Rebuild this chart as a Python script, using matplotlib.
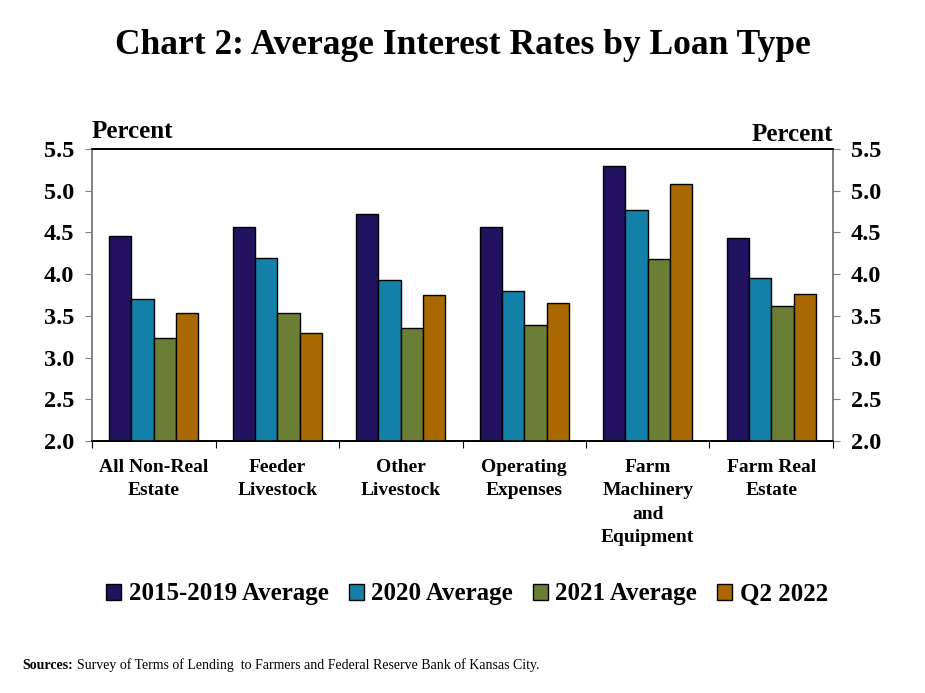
import matplotlib
matplotlib.use('Agg')
import matplotlib.pyplot as plt
import numpy as np

plt.rcParams['font.family'] = ['Liberation Serif', 'DejaVu Serif']
plt.rcParams['font.weight'] = 'bold'

categories = ['All Non-Real\nEstate', 'Feeder\nLivestock', 'Other\nLivestock',
              'Operating\nExpenses', 'Farm\nMachinery\nand\nEquipment', 'Farm Real\nEstate']
series_names = ['2015-2019 Average', '2020 Average', '2021 Average', 'Q2 2022']
avg_2015_2019 = [4.46, 4.57, 4.72, 4.56, 5.30, 4.43]
avg_2020 = [3.70, 4.19, 3.93, 3.80, 4.77, 3.95]
avg_2021 = [3.23, 3.53, 3.36, 3.39, 4.18, 3.62]
q2_2022 = [3.54, 3.29, 3.75, 3.65, 5.08, 3.76]
colors = ['#20125F', '#1380A8', '#6A7F35', '#AA6800']

fig = plt.figure(figsize=(9.25, 6.93), dpi=100)
ax = fig.add_axes([0.0995, 0.3636, 0.801, 0.4214])

x = np.arange(len(categories))
width = 0.181
all_series = [avg_2015_2019, avg_2020, avg_2021, q2_2022]
for i, (vals, name, c) in enumerate(zip(all_series, series_names, colors)):
    ax.bar(x + (i - 1.5) * width, vals, width=width, color=c, edgecolor='black',
           linewidth=1, label=name, zorder=3)

ax.set_xlim(-0.5, len(categories) - 0.5)
ax.set_ylim(2.0, 5.5)
yt = np.arange(2.0, 5.51, 0.5)
ax.set_yticks(yt)
ax.set_yticklabels(['%.1f' % v for v in yt], fontsize=17.5, fontweight='bold')
ax.tick_params(axis='y', direction='out', length=5, color='#808080', pad=8)

# category labels between boundary ticks
ax.set_xticks(np.arange(-0.5, len(categories), 1.0))
ax.set_xticklabels([])
ax.tick_params(axis='x', direction='out', length=5, color='black')
for xi, lab in zip(x, categories):
    ax.text(xi, -0.06, lab, transform=ax.get_xaxis_transform(), ha='center', va='top',
            fontsize=14, fontweight='bold', linespacing=1.5)

ax2 = ax.twinx()
ax2.set_ylim(2.0, 5.5)
ax2.set_yticks(yt)
ax2.set_yticklabels(['%.1f' % v for v in yt], fontsize=17.5, fontweight='bold')
ax2.tick_params(axis='y', direction='out', length=5, color='#808080', pad=8)

for a in (ax, ax2):
    a.spines['left'].set_color('#808080')
    a.spines['right'].set_color('#808080')
    a.spines['top'].set_color('black')
    a.spines['bottom'].set_color('black')
    for s in a.spines.values():
        s.set_linewidth(1.2)

ax.text(0.0, 1.02, 'Percent', transform=ax.transAxes, ha='left', va='bottom',
        fontsize=18, fontweight='bold')
ax2.text(1.0, 1.01, 'Percent', transform=ax2.transAxes, ha='right', va='bottom',
         fontsize=18, fontweight='bold')

fig.text(0.5, 0.935, 'Chart 2: Average Interest Rates by Loan Type', ha='center',
         va='center', fontsize=25.5, fontweight='bold')

h, l = ax.get_legend_handles_labels()
fig.legend(h, l, loc='center', bbox_to_anchor=(0.505, 0.143), ncol=4, frameon=False,
           prop={'size': 18, 'weight': 'bold'}, handlelength=0.6, handleheight=0.6,
           handletextpad=0.3, columnspacing=0.8)

src_bold = fig.text(0.024, 0.04, 'Sources:', ha='left', va='center', fontsize=10,
                    fontweight='bold')
fig.canvas.draw()
bb = src_bold.get_window_extent(renderer=fig.canvas.get_renderer())
fig.text(bb.x1 / fig.bbox.width + 0.004, 0.04,
         'Survey of Terms of Lending  to Farmers and Federal Reserve Bank of Kansas City.',
         ha='left', va='center', fontsize=10, fontweight='normal')

fig.savefig('out.png', dpi=100)
